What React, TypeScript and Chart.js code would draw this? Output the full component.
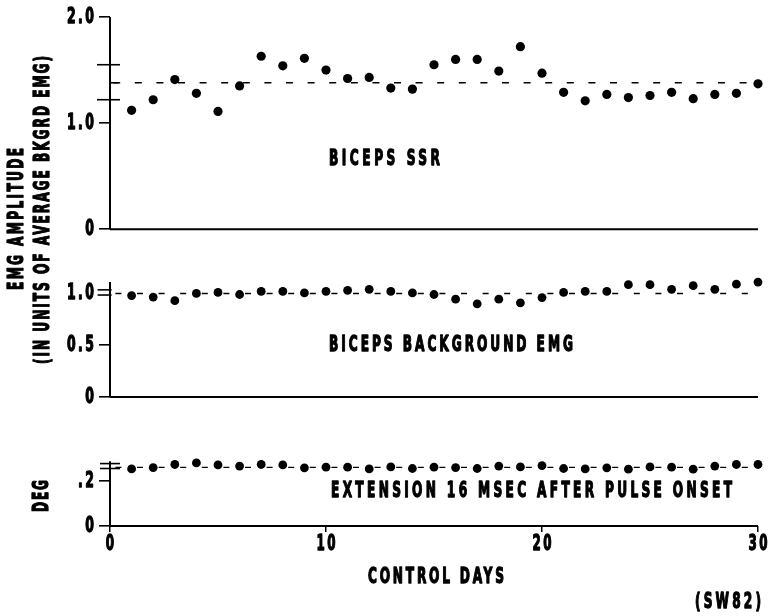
import React, { useEffect, useRef } from 'react';
import { Chart, registerables } from 'chart.js';

Chart.register(...registerables);

// ---------- data ----------
const days = [1, 2, 3, 4, 5, 6, 7, 8, 9, 10, 11, 12, 13, 14, 15, 16, 17, 18, 19, 20, 21, 22, 23, 24, 25, 26, 27, 28, 29, 30];

const ssrValues = [1.12, 1.22, 1.41, 1.28, 1.11, 1.35, 1.63, 1.54, 1.61, 1.5, 1.42, 1.43, 1.33, 1.32, 1.55, 1.6, 1.6, 1.49, 1.72, 1.47, 1.29, 1.21, 1.27, 1.24, 1.26, 1.29, 1.23, 1.27, 1.28, 1.37];
const bkgValues = [0.98, 0.965, 0.93, 1.0, 1.01, 0.99, 1.02, 1.02, 1.005, 1.02, 1.03, 1.04, 1.02, 1.005, 0.99, 0.945, 0.9, 0.945, 0.91, 0.96, 1.01, 1.02, 1.02, 1.085, 1.085, 1.04, 1.075, 1.04, 1.09, 1.11];
const extValues = [0.255, 0.261, 0.275, 0.282, 0.273, 0.268, 0.275, 0.273, 0.26, 0.263, 0.263, 0.255, 0.264, 0.257, 0.263, 0.261, 0.257, 0.268, 0.264, 0.27, 0.257, 0.255, 0.26, 0.254, 0.264, 0.263, 0.254, 0.268, 0.275, 0.275];

const ssrMean = 1.38;
const bkgMean = 1.0;
const extMean = 0.262;

const ssrSdMarks = [1.55, 1.22];
const bkgSdMarks = [1.09, 1.035, 0.985];
const extSdMarks = [0.279, 0.257];

const dayTicks = [0, 10, 20, 30];
const dayTickLabels = ['0', '10', '20', '30'];
const ssrTicks = [0, 1, 2];
const ssrTickLabels = ['0', '1.0', '2.0'];
const bkgTicks = [0, 0.5, 1];
const bkgTickLabels = ['0', '0.5', '1.0'];
const extTicks = [0, 0.2];
const extTickLabels = ['0', '.2'];

const ssrTitle = 'BICEPS SSR';
const bkgTitle = 'BICEPS BACKGROUND EMG';
const extTitle = 'EXTENSION 16 MSEC AFTER PULSE ONSET';
const xTitle = 'CONTROL DAYS';
const yTitle1 = 'EMG AMPLITUDE';
const yTitle2 = '(IN UNITS OF AVERAGE BKGRD EMG)';
const extUnit = 'DEG';
const figId = '(SW82)';

// ---------- style ----------
const FONT = "'DejaVu Sans Condensed', 'Liberation Sans Narrow', sans-serif";
const SX = 0.63; // horizontal compression of the lettering
const DAY_PX = 21.6;

const labelFrom = (vals: number[], labels: string[]) => (v: number | string) => {
  const i = vals.findIndex((t) => Math.abs(t - Number(v)) < 1e-9);
  return i >= 0 ? labels[i] : '';
};

type Ctx = CanvasRenderingContext2D & { letterSpacing?: string };

// draws condensed, letter-spaced text; align: 'left' | 'right' | 'center'
function drawText(
  ctx: Ctx,
  text: string,
  x: number,
  y: number,
  opts: { size: number; align?: 'left' | 'right' | 'center'; width?: number; spacing?: number; rot?: boolean }
) {
  ctx.save();
  ctx.font = `bold ${opts.size}px ${FONT}`;
  ctx.textBaseline = 'middle';
  ctx.textAlign = 'left';
  ctx.letterSpacing = '0px';
  const nat = ctx.measureText(text).width * SX;
  const n = Math.max(1, text.length - 1);
  const sp = opts.width != null ? (opts.width - nat) / n : opts.spacing ?? 2;
  const total = nat + sp * (text.length - 1);
  ctx.letterSpacing = `${sp / SX}px`;
  ctx.translate(x, y);
  if (opts.rot) ctx.rotate(-Math.PI / 2);
  const align = opts.align ?? 'left';
  const start = align === 'left' ? 0 : align === 'right' ? -total : -total / 2;
  ctx.scale(SX, 1);
  ctx.fillStyle = '#000';
  ctx.strokeStyle = '#000';
  ctx.lineWidth = 1.3;
  ctx.lineJoin = 'round';
  ctx.fillText(text, start / SX, 0);
  ctx.strokeText(text, start / SX, 0);
  ctx.restore();
}

// axis extents (value at top of each drawn vertical axis line)
const axisTop: Record<string, number> = { ySSR: 2.0, yBkg: 1.11, yExt: 0.29 };

const axesPlugin = {
  id: 'panelAxes',
  beforeDatasetsDraw(chart: any) {
    const ctx = chart.ctx as CanvasRenderingContext2D;
    const xs = chart.scales.x;
    const x0 = xs.getPixelForValue(0);
    const x30 = xs.getPixelForValue(30);
    ctx.save();
    ctx.strokeStyle = '#000';
    ctx.lineWidth = 2;
    for (const id of ['ySSR', 'yBkg', 'yExt']) {
      const ys = chart.scales[id];
      const yb = ys.getPixelForValue(0);
      const yt = ys.getPixelForValue(axisTop[id]);
      ctx.beginPath();
      ctx.moveTo(x0, yb);
      ctx.lineTo(x0, yt);
      ctx.moveTo(x0, yb);
      ctx.lineTo(x30, yb);
      ctx.stroke();
    }
    ctx.restore();
  },
};

type Txt = { text: string; x: number; y: number; w: number; rot?: boolean };
const texts: Txt[] = [
  { text: ssrTitle, x: 329, y: 159, w: 111 },
  { text: bkgTitle, x: 329, y: 345, w: 244 },
  { text: extTitle, x: 331, y: 491, w: 401 },
  { text: xTitle, x: 368, y: 577, w: 136 },
  { text: figId, x: 695, y: 602, w: 66 },
  { text: yTitle1, x: 17, y: 219, w: 142, rot: true },
  { text: yTitle2, x: 43, y: 210, w: 308, rot: true },
  { text: extUnit, x: 42, y: 496, w: 32, rot: true },
];

const textPlugin = {
  id: 'panelText',
  afterDraw(chart: any) {
    const ctx = chart.ctx as Ctx;
    // tick labels, taken from each scale's own ticks
    const xs = chart.scales.x;
    for (const t of xs.ticks) {
      const lbl = labelFrom(dayTicks, dayTickLabels)(t.value);
      drawText(ctx, lbl, xs.getPixelForValue(t.value), 545, { size: 21, align: 'center', spacing: 2.5 });
    }
    const yDefs: [string, number[], string[]][] = [
      ['ySSR', ssrTicks, ssrTickLabels],
      ['yBkg', bkgTicks, bkgTickLabels],
      ['yExt', extTicks, extTickLabels],
    ];
    for (const [id, vals, labels] of yDefs) {
      const ys = chart.scales[id];
      for (const t of ys.ticks) {
        const lbl = labelFrom(vals, labels)(t.value);
        drawText(ctx, lbl, 94, ys.getPixelForValue(t.value), { size: 22, align: 'right', spacing: 2.5 });
      }
    }
    for (const t of texts) {
      drawText(ctx, t.text, t.x, t.y, { size: 21.5, width: t.w, rot: t.rot, align: t.rot ? 'center' : 'left' });
    }
  },
};

const pts = (ys: number[]) => days.map((d, i) => ({ x: d, y: ys[i] }));
const meanLine = (m: number) => [{ x: 0, y: m }, { x: 30, y: m }];
const marks = (vals: number[], x: number) => vals.map((v) => ({ x, y: v }));

const yScale = (ticks: number[], max: number, weight: number, tickColor: (v: number) => string) => ({
  type: 'linear',
  position: 'left',
  stack: 'panels',
  stackWeight: weight,
  min: 0,
  max,
  border: { display: false },
  grid: {
    drawOnChartArea: false,
    drawTicks: true,
    tickLength: 11,
    color: (c: any) => tickColor(c.tick ? c.tick.value : 0),
    lineWidth: 1.6,
  },
  ticks: { display: false, autoSkip: false },
  afterBuildTicks: (s: any) => {
    s.ticks = ticks.map((v) => ({ value: v }));
  },
  afterFit: (s: any) => {
    s.width = 110;
    s.paddingTop = 0;
    s.paddingBottom = 0;
  },
});

export default function App() {
  const ref = useRef<HTMLCanvasElement>(null);
  useEffect(() => {
    const canvas = ref.current!;
    const pointDs = (data: any, yAxisID: string, r: number) => ({
      type: 'scatter',
      data,
      yAxisID,
      pointRadius: r,
      pointHoverRadius: r,
      backgroundColor: '#000',
      borderColor: '#000',
      borderWidth: 0,
      showLine: false,
      clip: false,
    });
    const dashDs = (m: number, yAxisID: string, dash: number[], off: number) => ({
      type: 'line',
      data: meanLine(m),
      yAxisID,
      borderColor: '#000',
      borderWidth: 1.4,
      borderDash: dash,
      borderDashOffset: off,
      pointRadius: 0,
      showLine: true,
      fill: false,
      clip: false,
    });
    const markDs = (vals: number[], yAxisID: string, x: number, r: number) => ({
      type: 'scatter',
      data: marks(vals, x),
      yAxisID,
      pointStyle: 'line',
      pointRadius: r,
      pointHoverRadius: r,
      borderColor: '#000',
      backgroundColor: '#000',
      borderWidth: 1.6,
      showLine: false,
      clip: false,
    });

    const chart = new Chart(canvas, {
      type: 'scatter',
      data: {
        datasets: [
          dashDs(ssrMean, 'ySSR', [7, DAY_PX - 7], 18.4),
          dashDs(bkgMean, 'yBkg', [6, DAY_PX - 6], 16.2),
          dashDs(extMean, 'yExt', [6, DAY_PX - 6], 16.2),
          markDs(ssrSdMarks, 'ySSR', -0.07, 11.5),
          markDs([ssrMean], 'ySSR', 0.19, 4.2),
          markDs(bkgSdMarks, 'yBkg', -0.25, 7),
          markDs(extSdMarks, 'yExt', 0, 10),
          pointDs(pts(ssrValues), 'ySSR', 4.6),
          pointDs(pts(bkgValues), 'yBkg', 4.4),
          pointDs(pts(extValues), 'yExt', 4.4),
        ] as any,
      },
      options: {
        responsive: false,
        devicePixelRatio: 1,
        animation: false,
        events: [],
        layout: { padding: { top: 17, right: 14, left: 0, bottom: 0 } },
        plugins: { legend: { display: false }, tooltip: { enabled: false }, title: { display: false } },
        scales: {
          x: {
            type: 'linear',
            position: 'bottom',
            min: 0,
            max: 30,
            border: { display: false },
            grid: { drawOnChartArea: false, drawTicks: true, tickLength: 6, color: '#000', lineWidth: 1.5 },
            ticks: { display: false, autoSkip: false, maxRotation: 0 },
            afterBuildTicks: (s: any) => {
              s.ticks = dayTicks.map((v) => ({ value: v }));
            },
            afterFit: (s: any) => {
              s.height = 90;
              s.paddingLeft = 0;
              s.paddingRight = 0;
            },
          },
          yExt: yScale(extTicks, 0.577, 129, () => '#000'),
          yBkg: yScale(bkgTicks, 1.622, 167.7, (v) => (v === 1 ? 'rgba(0,0,0,0)' : '#000')),
          ySSR: yScale(ssrTicks, 2.0, 212, () => '#000'),
        } as any,
      },
      plugins: [axesPlugin, textPlugin],
    } as any);
    return () => chart.destroy();
  }, []);

  return (
    <div style={{ position: 'fixed', left: 0, top: 0, width: 772, height: 616, background: '#fff' }}>
      <canvas ref={ref} width={772} height={616} style={{ width: 772, height: 616, display: 'block' }} />
    </div>
  );
}
